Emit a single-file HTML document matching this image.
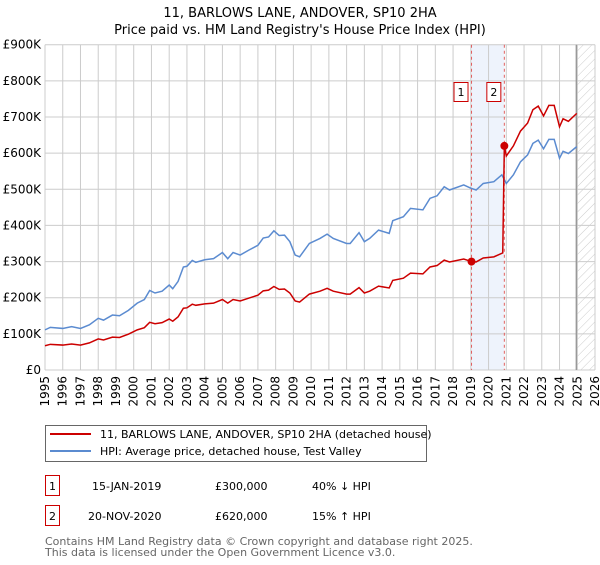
<!DOCTYPE html>
<html><head><meta charset="utf-8"><style>
body{margin:0;background:#fff;font-family:"Liberation Sans","DejaVu Sans",sans-serif;}
svg text{font-family:"DejaVu Sans","Liberation Sans",sans-serif;}
</style></head><body>
<svg id="chart" width="600" height="560" xmlns="http://www.w3.org/2000/svg">
<defs><pattern id="hatch" width="6" height="6" patternUnits="userSpaceOnUse" patternTransform="rotate(45)"><line x1="0" y1="0" x2="0" y2="6" stroke="#ccc" stroke-width="1"/></pattern></defs>
<text x="300" y="17" text-anchor="middle" font-size="13">11, BARLOWS LANE, ANDOVER, SP10 2HA</text>
<text x="300" y="34" text-anchor="middle" font-size="13">Price paid vs. HM Land Registry's House Price Index (HPI)</text>
<g id="grid"></g><g id="marks"></g><g id="axes"></g>
<g>
<rect x="45.5" y="425.5" width="381" height="36" fill="#fff" stroke="#666"/>
<line x1="50" y1="434" x2="91" y2="434" stroke="#cc0000" stroke-width="2"/>
<text x="100" y="438" font-size="11">11, BARLOWS LANE, ANDOVER, SP10 2HA (detached house)</text>
<line x1="50" y1="451" x2="91" y2="451" stroke="#5b8bd0" stroke-width="2"/>
<text x="100" y="455" font-size="11">HPI: Average price, detached house, Test Valley</text>
</g>
<g font-size="11">
<rect x="45.5" y="475.5" width="14" height="20" fill="#fff" stroke="#cc0000"/><text x="52.5" y="490" text-anchor="middle">1</text>
<text x="92" y="490">15-JAN-2019</text><text x="215" y="490">£300,000</text><text x="312" y="490">40% ↓ HPI</text>
<rect x="45.5" y="505.5" width="14" height="20" fill="#fff" stroke="#cc0000"/><text x="52.5" y="520" text-anchor="middle">2</text>
<text x="88" y="520">20-NOV-2020</text><text x="215" y="520">£620,000</text><text x="312" y="520">15% ↑ HPI</text>
</g>
<text x="45" y="545" font-size="11" fill="#666">Contains HM Land Registry data © Crown copyright and database right 2025.</text>
<text x="45" y="556" font-size="11" fill="#666">This data is licensed under the Open Government Licence v3.0.</text>
</svg>
<script>
const hpiYears=[1995,1995.3,1996,1996.5,1997,1997.5,1998,1998.3,1998.8,1999.2,1999.7,2000.2,2000.6,2000.9,2001.2,2001.6,2002,2002.2,2002.5,2002.8,2003,2003.3,2003.5,2004,2004.5,2005,2005.3,2005.6,2006,2006.5,2007,2007.3,2007.6,2007.9,2008.2,2008.5,2008.8,2009.1,2009.35,2009.9,2010.5,2010.9,2011.25,2012,2012.2,2012.7,2013,2013.3,2013.8,2014.4,2014.6,2015.2,2015.6,2016.3,2016.7,2017.1,2017.5,2017.8,2018.6,2019.0,2019.3,2019.7,2020.3,2020.75,2021.0,2021.4,2021.8,2022.2,2022.5,2022.8,2023.1,2023.4,2023.7,2024.0,2024.2,2024.5,2024.97];
const hpiValues=[111,118,115,120,115,125,143,138,152,150,165,185,195,220,213,218,235,225,245,285,287,303,298,305,308,325,308,325,318,332,345,365,368,385,372,373,355,318,313,350,364,376,364,350,350,380,355,364,387,378,413,424,447,443,475,482,507,498,512,503,498,516,521,540,516,540,576,595,627,636,612,638,638,586,605,599,618];
const ppYears=[1995,1995.3,1996,1996.5,1997,1997.5,1998,1998.3,1998.8,1999.2,1999.7,2000.2,2000.6,2000.9,2001.2,2001.6,2002,2002.2,2002.5,2002.8,2003,2003.3,2003.5,2004,2004.5,2005,2005.3,2005.6,2006,2006.5,2007,2007.3,2007.6,2007.9,2008.2,2008.5,2008.8,2009.1,2009.35,2009.9,2010.5,2010.9,2011.25,2012,2012.2,2012.7,2013,2013.3,2013.8,2014.4,2014.6,2015.2,2015.6,2016.3,2016.7,2017.1,2017.5,2017.8,2018.6,2019.04,2019.3,2019.7,2020.3,2020.8,2020.89,2021.0,2021.4,2021.8,2022.2,2022.5,2022.8,2023.1,2023.4,2023.7,2024.0,2024.2,2024.5,2024.97];
const ppValues=[67,71,69,72,69,75,86,83,91,90,99,111,117,132,128,131,141,135,147,171,172,182,179,183,185,195,185,195,191,199,207,219,221,231,223,224,213,191,188,210,218,226,218,210,210,228,213,218,232,227,248,254,268,266,285,289,304,299,307,300,299,310,313,324,620,592,620,661,683,720,730,703,732,732,673,695,688,710];
const saleYears=[2019.04,2020.89];
const saleValues=[300,620];
const saleLabels=["1","2"];
const yTicks=[0,100,200,300,400,500,600,700,800,900];
const yTickLabels=["£0","£100K","£200K","£300K","£400K","£500K","£600K","£700K","£800K","£900K"];
const xTicks=[1995,1996,1997,1998,1999,2000,2001,2002,2003,2004,2005,2006,2007,2008,2009,2010,2011,2012,2013,2014,2015,2016,2017,2018,2019,2020,2021,2022,2023,2024,2025,2026];
const X0=45,X1=595,Y0=370,Y1=44.7;
const sx=y=>X0+(y-1995)/(2026-1995)*(X1-X0);
const sy=v=>Y0-v/900*(Y0-Y1);
const NS="http://www.w3.org/2000/svg";
function mk(parent,tag,attrs){const e=document.createElementNS(NS,tag);for(const k in attrs)e.setAttribute(k,attrs[k]);parent.appendChild(e);return e;}
const grid=document.getElementById('grid'),marks=document.getElementById('marks'),axes=document.getElementById('axes');
// shaded sale span
let r=mk(grid,'rect',{x:sx(saleYears[0]),y:Y1,width:sx(saleYears[1])-sx(saleYears[0]),height:Y0-Y1,fill:'#eef3fc'});


// hatch future
let h=mk(grid,'rect',{x:sx(2025),y:Y1,width:X1-sx(2025),height:Y0-Y1,fill:'url(#hatch)'});


yTicks.forEach((t,i)=>{
  let l=mk(grid,'line',{x1:X0,x2:X1,y1:sy(t),y2:sy(t),stroke:'#ccc'});
  
  
  let tx=mk(axes,'text',{x:X0-4,y:sy(t)+4,'text-anchor':'end','font-size':12});
  tx.textContent=yTickLabels[i];
  
  
});
xTicks.forEach(t=>{
  let l=mk(grid,'line',{x1:sx(t),x2:sx(t),y1:Y1,y2:Y0,stroke:'#ccc'});
  
  
  let tx=mk(axes,'text',{x:sx(t)+4,y:Y0+6,'text-anchor':'end','font-size':12,transform:`rotate(-90 ${sx(t)+4} ${Y0+6})`});
  tx.textContent=t;
  
  
});
let nl=mk(grid,'line',{x1:sx(2024.95),x2:sx(2024.95),y1:Y1,y2:Y0,stroke:'#999','stroke-width':1.5});


saleYears.forEach((y,i)=>{
  let l=mk(grid,'line',{x1:sx(y),x2:sx(y),y1:Y1,y2:Y0,stroke:'#e06060','stroke-dasharray':'3,3'});
  
  
});
let hp=mk(marks,'polyline',{points:hpiYears.map((y,i)=>sx(y)+','+sy(hpiValues[i])).join(' '),fill:'none',stroke:'#5b8bd0','stroke-width':1.5});


let pp=mk(marks,'polyline',{points:ppYears.map((y,i)=>sx(y)+','+sy(ppValues[i])).join(' '),fill:'none',stroke:'#cc0000','stroke-width':1.5});


saleYears.forEach((y,i)=>{
  let c=mk(marks,'circle',{cx:sx(y),cy:sy(saleValues[i]),r:4,fill:'#cc0000'});
  
  
  let bx=sx(y)-4-14;
  let b=mk(marks,'rect',{x:bx+0.5,y:82.5,width:14,height:19,fill:'#fff',stroke:'#cc0000'});
  
  
  let t=mk(marks,'text',{x:bx+7.5,y:96,'text-anchor':'middle','font-size':11});
  t.textContent=saleLabels[i];
  
  
});
</script>
</body></html>
